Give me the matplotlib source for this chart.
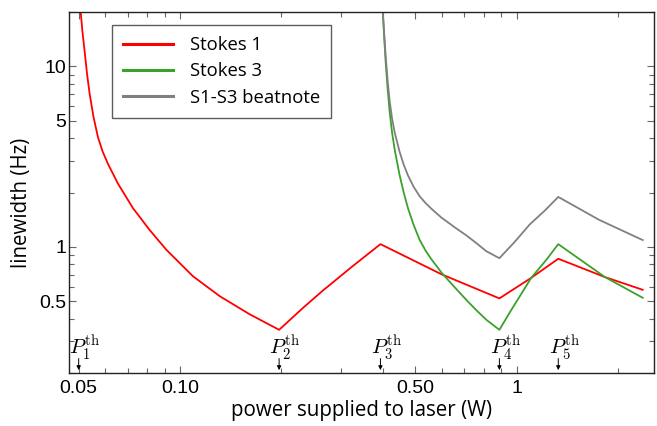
import matplotlib
matplotlib.use("Agg")
import matplotlib.pyplot as plt
import matplotlib.transforms as mtransforms
from matplotlib.ticker import FixedLocator, FixedFormatter, LogLocator, NullFormatter

plt.rcParams['mathtext.fontset'] = 'cm'

# ---- data ----
s1_power = [0.05021, 0.05069, 0.05131, 0.05209, 0.05292, 0.05391, 0.05533, 0.05707,
            0.05892, 0.06110, 0.06542, 0.07249, 0.08124, 0.09111, 0.10930, 0.13121,
            0.16107, 0.197, 0.2323, 0.2659, 0.3254, 0.394,
            0.5979, 0.889, 1.105, 1.33, 1.83, 2.37]
s1_width = [25.8, 20.05, 15.57, 12.09, 9.15, 7.02, 5.25, 4.04,
            3.37, 2.88, 2.239, 1.638, 1.240, 0.963, 0.687, 0.533,
            0.423, 0.347, 0.46, 0.573, 0.78, 1.035,
            0.705, 0.518, 0.673, 0.859, 0.68, 0.578]

s3_power = [0.39886, 0.40077, 0.40408, 0.40825, 0.41397, 0.41968, 0.42634, 0.43429,
            0.44940, 0.46187, 0.47565, 0.49456, 0.51525, 0.53685, 0.5582, 0.5979,
            0.6187, 0.6591, 0.7092, 0.7558, 0.8133, 0.889,
            0.9536, 1.105, 1.226, 1.33, 1.83, 2.37]
s3_width = [25.8, 19.55, 14.62, 10.65, 7.47, 5.59, 4.34, 3.455,
            2.487, 2.005, 1.638, 1.321, 1.093, 0.951, 0.854, 0.721,
            0.671, 0.589, 0.508, 0.4496, 0.394, 0.347,
            0.432, 0.673, 0.848, 1.035, 0.68, 0.522]

beat_power = [0.39858, 0.40077, 0.40436, 0.40825, 0.41397, 0.41968, 0.42634, 0.43429,
              0.44940, 0.46187, 0.47565, 0.49456, 0.51525, 0.53685, 0.5582, 0.5979,
              0.6591, 0.7092, 0.7558, 0.8133, 0.889,
              0.987, 1.0935, 1.212, 1.33, 1.76, 2.37]
beat_width = [25.8, 19.55, 15.18, 11.49, 8.27, 6.42, 5.18, 4.31,
              3.35, 2.858, 2.487, 2.149, 1.906, 1.745, 1.627, 1.452,
              1.272, 1.157, 1.056, 0.945, 0.865,
              1.065, 1.329, 1.586, 1.89, 1.41, 1.09]

thresholds = [0.05, 0.197, 0.394, 0.889, 1.33]
threshold_labels = [r'$P_1^{\mathrm{th}}$', r'$P_2^{\mathrm{th}}$', r'$P_3^{\mathrm{th}}$',
                    r'$P_4^{\mathrm{th}}$', r'$P_5^{\mathrm{th}}$']

x_ticks = [0.05, 0.10, 0.50, 1.0]
x_tick_labels = ['0.05', '0.10', '0.50', '1']
x_minor = [0.06, 0.07, 0.08, 0.09, 0.2, 0.3, 0.4, 0.6, 0.7, 0.8, 0.9, 2.0]
y_ticks = [0.5, 1, 5, 10]
y_tick_labels = ['0.5', '1', '5', '10']

# ---- figure ----
fig = plt.figure(figsize=(6.57, 4.26), dpi=100)
ax = fig.add_axes([69/657, 1 - 373/426, (654-69)/657, (373-12)/426])

lab_font = 'Open Sans'
tick_font = 'Liberation Sans'

ax.plot(s1_power, s1_width, color='#ff0000', lw=1.3, label='Stokes 1')
ax.plot(s3_power, s3_width, color='#3aa12a', lw=1.3, label='Stokes 3')
ax.plot(beat_power, beat_width, color='#808080', lw=1.3, label='S1-S3 beatnote')

ax.set_xscale('log')
ax.set_yscale('log')
ax.set_xlim(0.0468, 2.56)
ax.set_ylim(0.2, 20)

ax.xaxis.set_major_locator(FixedLocator(x_ticks))
ax.xaxis.set_major_formatter(FixedFormatter(x_tick_labels))
ax.xaxis.set_minor_locator(FixedLocator(x_minor))
ax.xaxis.set_minor_formatter(NullFormatter())
ax.yaxis.set_major_locator(FixedLocator(y_ticks))
ax.yaxis.set_major_formatter(FixedFormatter(y_tick_labels))
ax.yaxis.set_minor_locator(LogLocator(base=10, subs=range(2, 10)))
ax.yaxis.set_minor_formatter(NullFormatter())

ax.tick_params(which='both', direction='in', top=True, right=True, color='#666666', width=0.8)
ax.tick_params(which='major', length=5)
ax.tick_params(which='minor', length=3.5)
ax.tick_params(axis='x', which='major', pad=5)
ax.tick_params(axis='y', which='major', pad=2)
for lbl in ax.get_xticklabels() + ax.get_yticklabels():
    lbl.set_fontfamily(tick_font)
    lbl.set_fontsize(14)

for sp in ax.spines.values():
    sp.set_color('#222222')
    sp.set_linewidth(1.0)

ax.set_xlabel('power supplied to laser (W)', fontfamily=lab_font, fontsize=14.8, labelpad=2)
ax.set_ylabel('linewidth (Hz)', fontfamily=lab_font, fontsize=14.8)
ax.yaxis.set_label_coords(-0.063, 0.47)

leg = ax.legend(loc='upper left', bbox_to_anchor=(0.0735, 0.964), borderaxespad=0,
                prop={'family': lab_font, 'size': 13.3}, fancybox=False, frameon=True,
                handlelength=2.7, handletextpad=0.9, borderpad=0.6, labelspacing=0.45)
leg.get_frame().set_edgecolor('#333333')
leg.get_frame().set_linewidth(1.0)
for line in leg.get_lines():
    line.set_linewidth(2.2)

trans = mtransforms.blended_transform_factory(ax.transData, ax.transAxes)
for p, lab in zip(thresholds, threshold_labels):
    ax.annotate('', xy=(p, 0.008), xycoords=trans, xytext=(p, 0.04), textcoords=trans,
                arrowprops=dict(arrowstyle='-|>', color='black', lw=0.7, mutation_scale=6,
                                shrinkA=0, shrinkB=0))
    ax.annotate(lab, xy=(p, 0.03), xycoords=trans, xytext=(-7, 0), textcoords='offset points',
                ha='left', va='bottom', fontsize=15)

fig.savefig('out.png', dpi=100)
